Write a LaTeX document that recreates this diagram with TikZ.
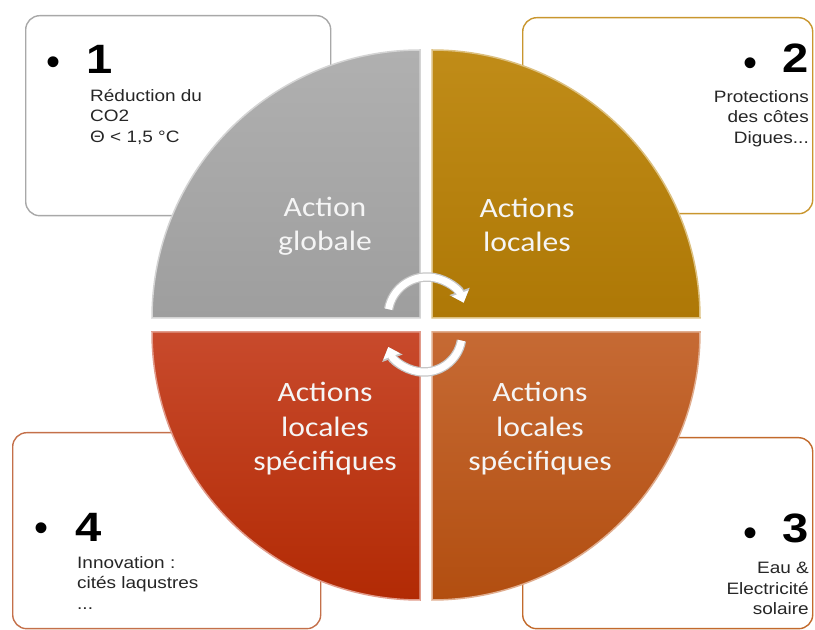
\documentclass[tikz,border=0pt]{standalone}
\usepackage{fontspec}
\setmainfont{Liberation Sans}
\newfontfamily\boxfont[FakeStretch=1.15]{Liberation Sans}
\newfontfamily\quadfont[FakeStretch=1.13]{Carlito}
\usetikzlibrary{arrows.meta, calc}
\definecolor{greyrim}{HTML}{A8A8A8}
\definecolor{goldrim}{HTML}{C9962E}
\definecolor{rustrim}{HTML}{C26A2C}
\definecolor{brickrim}{HTML}{C4704A}
\definecolor{greytop}{HTML}{B0B0B0}
\definecolor{greybot}{HTML}{9E9E9E}
\definecolor{goldtop}{HTML}{C08C18}
\definecolor{goldbot}{HTML}{AE7806}
\definecolor{bricktop}{HTML}{C84A2C}
\definecolor{brickbot}{HTML}{B22A04}
\definecolor{rusttop}{HTML}{C66A34}
\definecolor{rustbot}{HTML}{B24E10}
\definecolor{inktext}{HTML}{262626}

\begin{document}
\begin{tikzpicture}[
        x=1pt, y=1pt,
        infobox/.style={draw=#1, line width=1.4pt, rounded corners=14pt, fill=white,
                        anchor=north west, inner sep=0pt},
        quadfill/.style 2 args={top color=#1, bottom color=#2, draw=#1!55!white,
                                line width=1.5pt},
        quadlabel/.style={font=\quadfont\fontsize{28}{34.5}\selectfont, text=white!92!gray,
                          align=center},
        bignum/.style={font=\boxfont\fontsize{41}{41}\selectfont\bfseries, text=black},
        dotmark/.style={font=\fontsize{40}{40}\selectfont, text=black, inner sep=0pt},
        boxtext/.style={font=\boxfont\fontsize{16.5}{20.5}\selectfont, text=inktext,
                        inner sep=0pt},
        cycshade/.style={line width=9.5pt, draw=gray!45, -{Triangle[length=12pt,width=21pt]}},
        cyccore/.style={line width=7pt, draw=white, -{Triangle[length=10pt,width=17pt]}}
    ]
      \useasboundingbox (0,0) rectangle (815,630);

      % --- Corner boxes ---
      \node[infobox=greyrim, minimum width=305pt, minimum height=200pt] (boxA) at (25,615) {};
      \node[infobox=goldrim, minimum width=290pt, minimum height=196pt] (boxB) at (522,613) {};
      \node[infobox=rustrim, minimum width=290pt, minimum height=191pt] (boxC) at (522,193) {};
      \node[infobox=brickrim, minimum width=308pt, minimum height=196pt] (boxD) at (12,198) {};

      % --- Four quadrants ---
      \coordinate (hub) at (426,305);
      \path[quadfill={greytop}{greybot}] (420,312) -- (152,312)
            arc[start angle=180, end angle=90, radius=268] -- cycle;
      \path[quadfill={goldtop}{goldbot}] (432,312) -- (432,580)
            arc[start angle=90, end angle=0, radius=268] -- cycle;
      \path[quadfill={bricktop}{brickbot}] (420,298) -- (420,30)
            arc[start angle=270, end angle=180, radius=268] -- cycle;
      \path[quadfill={rusttop}{rustbot}] (432,298) -- (700,298)
            arc[start angle=0, end angle=-90, radius=268] -- cycle;

      % Quadrant labels
      \node[quadlabel] (qglob) at (325,404) {Action\\globale};
      \node[quadlabel] (qloc) at (527,405) {Actions\\locales};
      \node[quadlabel] (qspecL) at (325,201) {Actions\\locales\\spécifiques};
      \node[quadlabel] (qspecR) at (540,201) {Actions\\locales\\spécifiques};

      % --- Cycle arrows ---
      \coordinate (cycUp) at ($(427,314)+(170:39)$);
      \coordinate (cycLow) at ($(424,296)+(-10:38)$);
      \draw[cycshade] (cycUp) arc[start angle=170, end angle=20, radius=39];
      \draw[cyccore] (cycUp) arc[start angle=170, end angle=20, radius=39];
      \draw[cycshade] (cycLow) arc[start angle=-10, end angle=-160, radius=38];
      \draw[cyccore] (cycLow) arc[start angle=-10, end angle=-160, radius=38];

      % --- Box 1 ---
      \node[dotmark] (dotA) at (54,564) {•};
      \node[bignum] (numA) at (100,571) {1};
      \node[boxtext, anchor=north west, align=left] (txtA) at (90,541)
            {Réduction du\\CO2\\Θ < 1,5 °C};

      % --- Box 2 ---
      \node[dotmark] (dotB) at (750,563) {•};
      \node[bignum] (numB) at (796,572) {2};
      \node[boxtext, anchor=north east, align=right] (txtB) at (809,540)
            {Protections\\des côtes\\Digues...};

      % --- Box 3 ---
      \node[dotmark] (dotC) at (750,93) {•};
      \node[bignum] (numC) at (796,102) {3};
      \node[boxtext, anchor=north east, align=right] (txtC) at (809,68)
            {Eau \&\\Electricité\\solaire};

      % --- Box 4 ---
      \node[dotmark] (dotD) at (42,98) {•};
      \node[bignum] (numD) at (89,103) {4};
      \node[boxtext, anchor=north west, align=left] (txtD) at (77,74)
            {Innovation :\\cités laqustres\\...};
    \end{tikzpicture}
\end{document}
